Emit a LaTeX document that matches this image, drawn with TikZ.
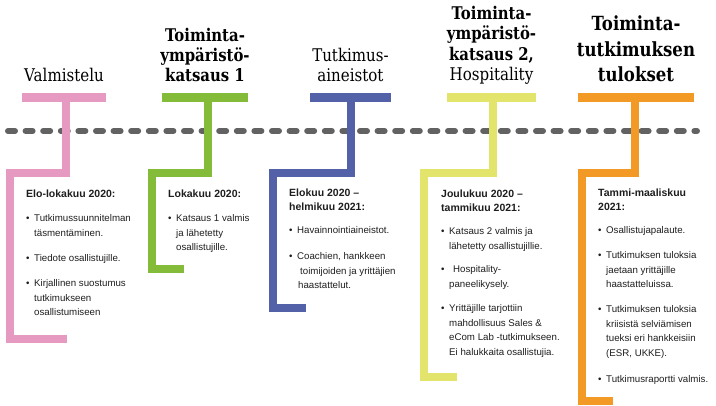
\documentclass[tikz,border=0pt]{standalone}
\usepackage{fontspec}
\setmainfont{Liberation Sans}
\newfontfamily\tfont[FakeStretch=0.86,BoldFeatures={FakeStretch=0.85}]{DejaVu Serif}
\definecolor{cpink}{HTML}{E699C1}
\definecolor{cgreen}{HTML}{84BC3A}
\definecolor{cblue}{HTML}{5361A9}
\definecolor{cyellow}{HTML}{E3E46B}
\definecolor{corange}{HTML}{F39A26}
\definecolor{cdash}{HTML}{626262}
\definecolor{ctext}{HTML}{1E1E1E}
\newcommand\mylines[1]{\begin{tabular}[t]{@{}l@{}}#1\end{tabular}}
\newcommand\mytitle[1]{\begin{tabular}[b]{@{}c@{}}#1\end{tabular}}
\newcommand\bul{\makebox[8pt][l]{\textbullet}}
\tikzset{
  bar/.style={line width=8pt, line join=miter},
  title/.style={anchor=base, inner sep=0pt, text=black, font=\tfont\fontsize{17.5}{20.3}\selectfont},
  bigtitle/.style={title, font=\tfont\fontsize{19.5}{25.5}\selectfont},
  head/.style={anchor=base west, inner sep=0pt, text=ctext, font=\bfseries\fontsize{10.5}{13.8}\selectfont},
  item/.style={anchor=base west, inner sep=0pt, text=ctext, font=\fontsize{9.7}{14.6}\selectfont},
}
\begin{document}
\begin{tikzpicture}[x=1pt,y=-1pt]
\useasboundingbox (0,0) rectangle (716,406);
% timeline
\draw[cdash, line width=6pt, line cap=round, dash pattern=on 7pt off 10.6pt] (8,131) -- (697,131);
% pink
\fill[cpink] (22,93) rectangle (106,102);
\draw[bar,cpink] (67,339) -- (10,339) -- (10,173) -- (65.5,173) -- (65.5,100);
% green
\fill[cgreen] (162,93) rectangle (248,102);
\draw[bar,cgreen] (184,269) -- (152,269) -- (152,173) -- (207.5,173) -- (207.5,100);
% blue
\fill[cblue] (310,93) rectangle (391,102);
\draw[bar,cblue] (306,308.5) -- (273,308.5) -- (273,173.5) -- (350.5,173.5) -- (350.5,100);
% yellow
\fill[cyellow] (447,93) rectangle (536,102);
\draw[bar,cyellow] (457,377) -- (424,377) -- (424,173) -- (492.5,173) -- (492.5,100);
% orange
\fill[corange] (578,93) rectangle (694,102);
\draw[bar,corange] (613,401.5) -- (582,401.5) -- (582,173) -- (635,173) -- (635,100);

% titles
\node[title] (t1) at (64,82) {\mytitle{Valmistelu}};
\node[title] (t2) at (205,82) {\mytitle{\bfseries Toiminta-\\\bfseries ympäristö-\\\bfseries katsaus 1}};
\node[title] (t3) at (350.5,82) {\mytitle{Tutkimus-\\aineistot}};
\node[title] (t4) at (491.5,80.5) {\mytitle{\bfseries Toiminta-\\\bfseries ympäristö-\\\bfseries katsaus 2,\\Hospitality}};
\node[bigtitle] (t5) at (636,82) {\mytitle{\bfseries Toiminta-\\\bfseries tutkimuksen\\\bfseries tulokset}};

% pink column
\node[head] (h1) at (26,197.5) {\mylines{Elo-lokakuu 2020:}};
\node[item] (p1) at (26,221.5) {\bul\mylines{Tutkimussuunnitelman\\täsmentäminen.}};
\node[item] (p2) at (26,261.5) {\bul\mylines{Tiedote osallistujille.}};
\node[item] (p3) at (26,286.5) {\bul\mylines{Kirjallinen suostumus\\tutkimukseen\\osallistumiseen}};

% green column
\node[head] (h2) at (168,197.5) {\mylines{Lokakuu 2020:}};
\node[item] (g1) at (168,221.5) {\bul\mylines{Katsaus 1 valmis\\ja lähetetty\\osallistujille.}};

% blue column
\node[head] (h3) at (289,196.5) {\mylines{Elokuu 2020 –\\helmikuu 2021:}};
\node[item] (b1) at (289,233.5) {\bul\mylines{Havainnointiaineistot.}};
\node[item] (b2) at (289,259.5) {\bul\mylines{Coachien, hankkeen\\\hspace{3pt}toimijoiden ja yrittäjien\\\hspace{1pt}haastattelut.}};

% yellow column
\node[head] (h4) at (441,197.5) {\mylines{Joulukuu 2020 –\\tammikuu 2021:}};
\node[item] (y1) at (441,235) {\bul\mylines{Katsaus 2 valmis ja\\lähetetty osallistujillie.}};
\node[item] (y2) at (441,273) {\bul\mylines{\hspace{4pt}Hospitality-\\paneelikysely.}};
\node[item] (y3) at (441,311.5) {\bul\mylines{Yrittäjille tarjottiin\\mahdollisuus Sales \&\\eCom Lab -tutkimukseen.\\Ei halukkaita osallistujia.}};

% orange column
\node[head] (h5) at (598,196.5) {\mylines{Tammi-maaliskuu\\2021:}};
\node[item] (o1) at (598,233.5) {\bul\mylines{Osallistujapalaute.}};
\node[item] (o2) at (598,258.5) {\bul\mylines{Tutkimuksen tuloksia\\jaetaan yrittäjille\\haastatteluissa.}};
\node[item] (o3) at (598,312.5) {\bul\mylines{Tutkimuksen tuloksia\\kriisistä selviämisen\\tueksi eri hankkeisiin\\(ESR, UKKE).}};
\node[item] (o4) at (598,382.5) {\bul\mylines{Tutkimusraportti valmis.}};
\end{tikzpicture}
\end{document}
